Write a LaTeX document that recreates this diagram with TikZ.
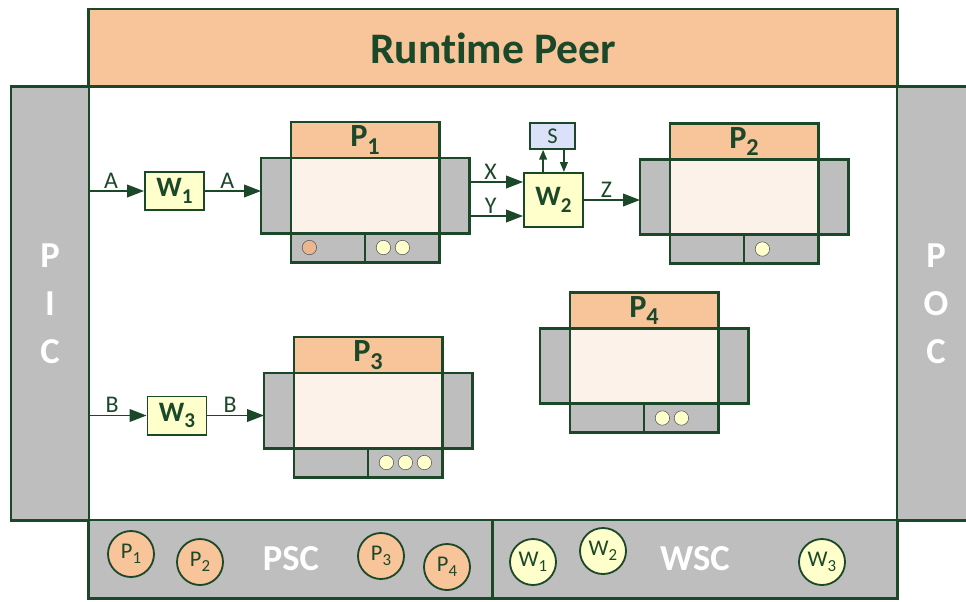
\documentclass[tikz,border=0pt]{standalone}
\usepackage{fontspec}
\setmainfont{Carlito}[Ligatures=NoCommon]
\usetikzlibrary{arrows.meta,positioning}

\definecolor{dkgreen}{RGB}{28,72,42}
\definecolor{peach}{RGB}{248,197,154}
\definecolor{midgray}{RGB}{190,190,190}
\definecolor{cream}{RGB}{252,242,234}
\definecolor{paleyellow}{RGB}{255,255,204}
\definecolor{paleblue}{RGB}{220,225,250}
\definecolor{dotorange}{RGB}{236,182,142}

\newcommand{\lsub}[2]{#1\raisebox{-0.5ex}{\scalebox{0.75}{#2}}}

\begin{document}
\begin{tikzpicture}[
  x=0.025cm, y=-0.025cm,
  frame/.style={rectangle, draw=dkgreen, line width=2.1pt, outer sep=0pt, inner sep=0pt},
  bigbox/.style={frame, fill=midgray, text=white, font=\fontsize{26}{34}\selectfont\bfseries, align=center},
  head/.style={frame, fill=peach, minimum width=37mm, minimum height=9mm, text=dkgreen, font=\fontsize{23}{23}\selectfont\bfseries},
  body/.style={frame, fill=cream, minimum width=37mm, minimum height=18.75mm},
  side/.style={frame, fill=midgray, minimum width=7.5mm, minimum height=18.75mm},
  half/.style={frame, fill=midgray, minimum width=18.5mm, minimum height=7.25mm},
  dot/.style={circle, draw=gray!70!black, line width=0.4pt, fill=paleyellow, minimum size=3.6mm, inner sep=0pt},
  wbox/.style={rectangle, draw=dkgreen, line width=1.4pt, fill=paleyellow, minimum width=14.75mm, minimum height=9.5mm, text=dkgreen, font=\fontsize{20}{20}\selectfont\bfseries},
  store/.style={circle, draw=dkgreen, line width=1.3pt, minimum size=11.5mm, inner sep=0pt, text=dkgreen, font=\fontsize{16}{16}\selectfont},
  arr/.style={-{Triangle[length=12pt, width=9pt]}, draw=dkgreen, line width=1.1pt},
  sarr/.style={-{Triangle[length=7pt, width=5.5pt]}, draw=dkgreen, line width=1.1pt},
  lbl/.style={text=dkgreen, inner sep=1.5pt, font=\fontsize{17}{17}\selectfont}
]
\useasboundingbox (0,0) rectangle (966,601);

% runtime peer frame
\node[frame, fill=peach, minimum width=202mm, minimum height=19.5mm, text=dkgreen, font=\fontsize{31}{31}\selectfont\bfseries] (peer) at (493,48) {Runtime Peer};
\node[frame, fill=white, minimum width=202mm, minimum height=108.25mm] (core) at (493,303.5) {};
\node[bigbox, minimum width=19.5mm, minimum height=108.25mm] (pic) at (50,303.5) {P\\I\\C};
\node[bigbox, minimum width=19.5mm, minimum height=108.25mm] (poc) at (936,303.5) {P\\O\\C};
\node[bigbox, minimum width=101mm, minimum height=19.5mm] (psc) at (291,559) {PSC};
\node[bigbox, minimum width=101mm, minimum height=19.5mm] (wsc) at (695,559) {WSC};

% processing units
\foreach \n/\x/\y/\k in {1/365/140/2, 2/744/141.5/1, 3/368/355/3, 4/644/310.5/2} {
  \node[head] (p\n-head) at (\x,\y) {\lsub{P}{\n}};
  \node[body, below=0pt of p\n-head] (p\n-body) {};
  \node[side, left=0pt of p\n-body] (p\n-in) {};
  \node[side, right=0pt of p\n-body] (p\n-out) {};
  \node[half, anchor=north west] (p\n-bl) at (p\n-body.south west) {};
  \node[half, anchor=north east] (p\n-br) at (p\n-body.south east) {};
  \foreach \d in {1,...,\k}
    \node[dot] (p\n-dot\d) at ([xshift={4.6mm+4.75mm*(\d-1)}]p\n-br.west) {};
}
\node[dot, fill=dotorange] (p1-dot0) at ([xshift=4.6mm]p1-bl.west) {};

% wrappers and state
\node[wbox] (w1) at (174.5,191) {\lsub{W}{1}};
\node[wbox, minimum height=13.5mm] (w2) at (553.5,200) {\lsub{W}{2}};
\node[wbox] (w3) at (177,415.5) {\lsub{W}{3}};
\node[rectangle, draw=dkgreen, line width=1.1pt, fill=paleblue, minimum width=11.25mm, minimum height=6.5mm, text=dkgreen, font=\fontsize{16}{16}\selectfont] (s) at (552.5,136) {S};

\coordinate (x-in) at ([yshift=4.5mm]w2.west);
\coordinate (y-in) at ([yshift=-4mm]w2.west);

\draw[arr] (pic.east |- w1) -- node[lbl, above, pos=0.4] {A} (w1);
\draw[arr] (w1) -- node[lbl, above, pos=0.4] {A} (w1 -| p1-in.west);
\draw[arr] (pic.east |- w3) -- node[lbl, above, pos=0.4] {B} (w3);
\draw[arr] (w3) -- node[lbl, above, pos=0.4] {B} (w3 -| p3-in.west);
\draw[arr] (x-in -| p1-out.east) -- node[lbl, above, pos=0.4] {X} (x-in);
\draw[arr] (y-in -| p1-out.east) -- node[lbl, above, pos=0.4] {Y} (y-in);
\draw[arr] (w2) -- node[lbl, above, pos=0.4] {Z} (w2 -| p2-in.west);
\draw[sarr] ([xshift=-2.6mm]w2.north) -- ([xshift=-2.6mm]w2.north |- s.south);
\draw[sarr] ([xshift=2.6mm]w2.north |- s.south) -- ([xshift=2.6mm]w2.north);

% stores
\foreach \n/\x/\y in {1/131/554, 2/200/562, 3/381/556, 4/447/567}
  \node[store, fill=peach] (ps\n) at (\x,\y) {\lsub{P}{\n}};
\foreach \n/\x/\y in {1/533/562, 2/603/551, 3/822/562}
  \node[store, fill=paleyellow] (ws\n) at (\x,\y) {\lsub{W}{\n}};
\end{tikzpicture}
\end{document}
